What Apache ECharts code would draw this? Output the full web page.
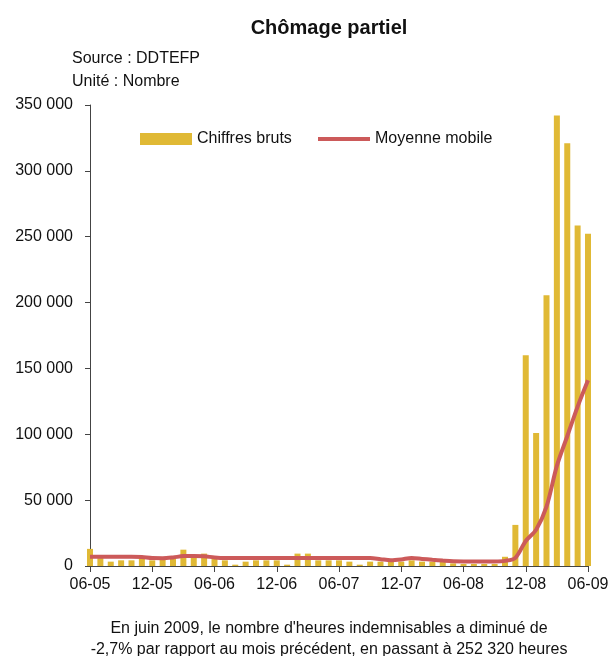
<!DOCTYPE html>
<html>
<head>
<meta charset="utf-8">
<script src="https://cdn.jsdelivr.net/npm/echarts@6/dist/echarts.min.js"></script>
<style>
html,body{margin:0;padding:0;background:#fff;}
#chart{width:613px;height:656px;}
</style>
</head>
<body>
<div id="chart"></div>
<script>
const categories = ["06-05","07-05","08-05","09-05","10-05","11-05","12-05","01-06","02-06","03-06","04-06","05-06",
  "06-06","07-06","08-06","09-06","10-06","11-06","12-06","01-07","02-07","03-07","04-07","05-07",
  "06-07","07-07","08-07","09-07","10-07","11-07","12-07","01-08","02-08","03-08","04-08","05-08",
  "06-08","07-08","08-08","09-08","10-08","11-08","12-08","01-09","02-09","03-09","04-09","05-09","06-09"];
const chiffresBruts = [13000,6000,3300,4300,4300,6100,4300,5300,6100,12400,6100,9400,
  6100,4300,1000,3300,4300,4300,4300,1000,9400,9400,4300,4300,
  4300,3300,1000,3300,3300,3300,3300,4300,3300,3300,3300,2000,
  1500,1500,1500,1500,7000,31200,160000,101000,205500,342000,321000,258500,252320];
const moyenneMobile = [7000,7000,7000,7000,7000,6800,6000,5900,6500,7500,7600,7400,
  6500,6100,6100,6100,6100,6100,6100,6100,6100,6100,6100,6100,
  6100,6100,6100,6000,5200,4400,5000,6100,5400,4700,4100,3600,
  3500,3500,3500,3500,3900,6200,19000,27500,45000,76000,98500,121000,141000];

const FONT = "Liberation Sans, Arial, sans-serif";
const BAR = '#E0B935', LINE = '#CC5A5A', TXT = '#111';
const chart = echarts.init(document.getElementById('chart'), null, {renderer:'canvas'});
function fmt(v){ return String(v).replace(/\B(?=(\d{3})+(?!\d))/g, ' '); }

chart.setOption({
  animation:false,
  backgroundColor:'#ffffff',
  textStyle:{fontFamily:FONT},
  title:[
    {text:'Chômage partiel', left:329, top:18, textAlign:'center', padding:0,
     textStyle:{fontFamily:FONT, fontSize:20, fontWeight:'bold', color:TXT}},
    {text:'Source : DDTEFP', left:72, top:51, padding:0,
     textStyle:{fontFamily:FONT, fontSize:16, fontWeight:'normal', color:TXT}},
    {text:'Unité : Nombre', left:72, top:74, padding:0,
     textStyle:{fontFamily:FONT, fontSize:16, fontWeight:'normal', color:TXT}},
    {text:"En juin 2009, le nombre d'heures indemnisables a diminué de\n-2,7% par rapport au mois précédent, en passant à 252 320 heures",
     left:329, top:618, textAlign:'center', padding:0,
     textStyle:{fontFamily:FONT, fontSize:16, fontWeight:'normal', color:TXT, lineHeight:21}}
  ],
  legend:[
    {left:140, top:131, padding:0, itemWidth:52, itemHeight:12,
     textStyle:{fontFamily:FONT, fontSize:16, color:TXT},
     data:[{name:'Chiffres bruts', icon:'rect'}]},
    {left:318, top:131, padding:0, itemWidth:52, itemHeight:4,
     textStyle:{fontFamily:FONT, fontSize:16, color:TXT},
     data:[{name:'Moyenne mobile', icon:'rect', itemStyle:{color:LINE}}]}
  ],
  grid:{left:90, right:25, top:105, bottom:90, containLabel:false},
  xAxis:{
    type:'category', data:categories, boundaryGap:false,
    axisLine:{lineStyle:{color:'#444', width:1}},
    axisTick:{interval:5, length:6, lineStyle:{color:'#444'}},
    axisLabel:{interval:5, margin:11, fontFamily:FONT, fontSize:16, color:TXT},
    splitLine:{show:false}
  },
  yAxis:{
    type:'value', min:0, max:350000, interval:50000,
    axisLine:{show:true, lineStyle:{color:'#444', width:1}},
    axisTick:{show:true, length:5, lineStyle:{color:'#444'}},
    axisLabel:{margin:17, fontFamily:FONT, fontSize:16, color:TXT, formatter:function(v){return fmt(v);}},
    splitLine:{show:false}
  },
  series:[
    {name:'Chiffres bruts', type:'bar', data:chiffresBruts, barWidth:6,
     itemStyle:{color:BAR}, z:2},
    {name:'Moyenne mobile', type:'line', data:moyenneMobile, smooth:0.3, showSymbol:false, symbol:'none',
     lineStyle:{color:LINE, width:4}, itemStyle:{color:LINE}, z:3}
  ]
});
</script>
</body>
</html>
